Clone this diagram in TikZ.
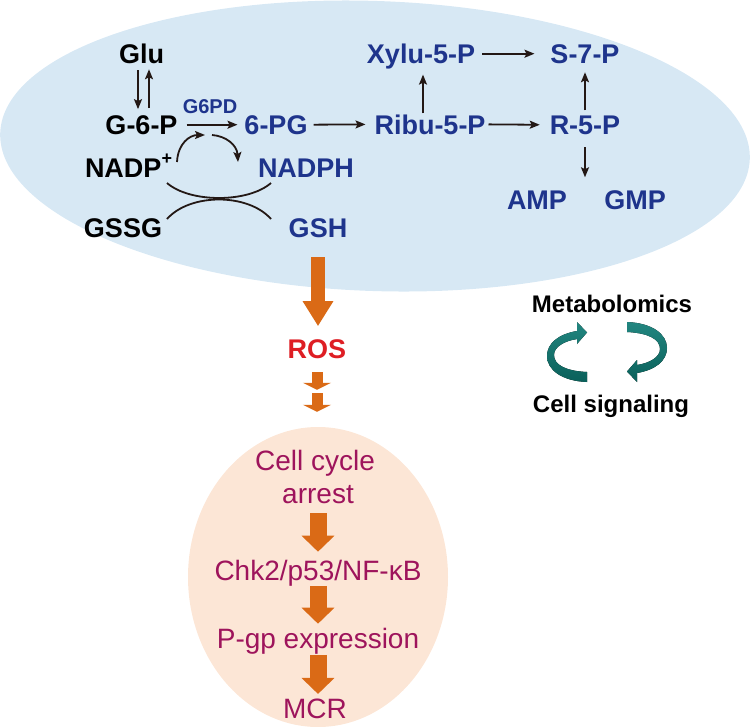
\documentclass[tikz,border=0pt]{standalone}
\usepackage{fontspec}
\setmainfont{Liberation Sans}
\usetikzlibrary{arrows.meta,calc}
\definecolor{bluefill}{RGB}{215,232,244}
\definecolor{navy}{RGB}{30,52,140}
\definecolor{ink}{RGB}{35,24,21}
\definecolor{orng}{RGB}{218,106,22}
\definecolor{rosred}{RGB}{222,30,36}
\definecolor{magent}{RGB}{158,20,92}
\definecolor{peach}{RGB}{252,230,214}
\definecolor{tealA}{RGB}{34,134,128}
\definecolor{tealB}{RGB}{10,96,90}
\begin{document}
\begin{tikzpicture}[x=1pt,y=-1pt,
  lbl/.style={inner sep=0pt, outer sep=0pt, anchor=base, font=\fontsize{27}{30}\selectfont\bfseries},
  blk/.style={lbl, text=black},
  blu/.style={lbl, text=navy},
  sidelbl/.style={inner sep=0pt, outer sep=0pt, anchor=base, font=\fontsize{24}{28}\selectfont\bfseries, text=black},
  peachlbl/.style={inner sep=0pt, outer sep=0pt, anchor=base, font=\fontsize{28}{32}\selectfont, text=magent},
  arr/.style={draw=ink, line width=1.8pt, -{Stealth[length=10pt,width=8pt,inset=2pt]}},
  thin/.style={draw=ink, line width=1.8pt},
  bigarrow/.style={draw=orng, line width=14pt, -{Triangle[length=25pt,width=29pt]}},
  smallarrow/.style={draw=orng, line width=11pt, -{Triangle[length=7pt,width=28pt]}},
  midarrow/.style={draw=orng, line width=17pt, -{Triangle[length=16pt,width=32pt]}},
  ribbon/.style={top color=tealA, bottom color=tealB, draw=none}
]
\useasboundingbox (0,0) rectangle (750,726);

% background shapes
\fill[bluefill, rotate around={-2:(375,146)}] (375,146) ellipse [x radius=375pt, y radius=145pt];
\fill[peach] (318,577) ellipse [x radius=130pt, y radius=150pt];

% labels in the blue ellipse
\node[blk] (glu) at (141.5,63) {Glu};
\node[blk] (g6p) at (141.5,134) {G-6-P};
\node[blu, font=\fontsize{20}{22}\selectfont\bfseries] (g6pd) at (210,113) {G6PD};
\node[blu] (sixpg) at (276,134) {6-PG};
\node[blu] (ribu) at (430,134) {Ribu-5-P};
\node[blu] (r5p) at (585,134) {R-5-P};
\node[blu] (xylu) at (421,63) {Xylu-5-P};
\node[blu] (s7p) at (585,63) {S-7-P};
\node[blk, anchor=base west] (nadp) at (85,177) {NADP\raisebox{13pt}{\fontsize{18}{18}\selectfont\bfseries +}};
\node[blu] (nadph) at (306,177) {NADPH};
\node[blu] (amp) at (537,209) {AMP};
\node[blu] (gmp) at (635,209) {GMP};
\node[blk] (gssg) at (123,237) {GSSG};
\node[blu] (gsh) at (318,237) {GSH};

% black arrows
\draw[arr] ($(glu.south)+(-3.5,7)$) -- ($(g6p.north)+(-3.5,-6)$);
\draw[arr] ($(g6p.north)+(7.5,-7)$) -- ($(glu.south)+(7.5,6)$);
\draw[arr, shorten <=9pt, shorten >=7pt] (g6p.east) -- (sixpg.west);
\draw[arr, shorten <=6pt, shorten >=9pt] (sixpg.east) -- (ribu.west);
\draw[arr, shorten <=3pt, shorten >=10pt] (ribu.east) -- (r5p.west);
\draw[arr, shorten <=7pt, shorten >=16pt] (xylu.east |- s7p.west) -- (s7p.west);
\draw[arr] ($(ribu.north)+(-7,-1)$) -- ($(xylu.south)+(2,6)$);
\draw[arr] ($(r5p.north)+(0,-5)$) -- ($(s7p.south)+(0,9)$);
\coordinate (ampgmp) at ($(amp.north)!0.5!(gmp.north)$);
\draw[arr] ($(r5p.south)+(0,13)$) -- ($(ampgmp)+(-1,-13)$);

% cofactor curved arrows
\coordinate (c1s) at (177,162);
\coordinate (c1e) at (205,135);
\coordinate (c2s) at (212,135);
\coordinate (c2e) at (238,162);
\draw[arr] (c1s) .. controls (178,143) and (190,135) .. (c1e);
\draw[arr] (c2s) .. controls (226,136) and (237,145) .. (c2e);

% crossing curves
\coordinate (xa1) at (167,183);
\coordinate (xa2) at (271,183);
\coordinate (xb1) at (167,219);
\coordinate (xb2) at (271,219);
\draw[thin] (xa1) .. controls (190,203) and (248,203) .. (xa2);
\draw[thin] (xb1) .. controls (190,193) and (248,193) .. (xb2);

% ROS and orange arrows
\node[lbl, text=rosred] (ros) at (317,358) {ROS};
\draw[bigarrow] ($(gsh.south)+(0,20)$) -- ($(gsh.south |- ros.north)+(0,-13)$);
\coordinate (sa1) at ($(ros.south)+(0,14)$);
\coordinate (sa2) at ($(ros.south)+(0,31.5)$);
\coordinate (sb1) at ($(ros.south)+(0,35)$);
\coordinate (sb2) at ($(ros.south)+(0,53.5)$);
\draw[smallarrow] (sa1) -- (sa2);
\draw[smallarrow] (sb1) -- (sb2);

% peach ellipse contents
\node[peachlbl] (cc1) at (315,470) {Cell cycle};
\node[peachlbl] (cc2) at (318,503) {arrest};
\node[peachlbl] (chk) at (318,580) {Chk2/p53/NF-κB};
\node[peachlbl] (pgp) at (318,648) {P-gp expression};
\node[peachlbl] (mcr) at (315,718) {MCR};
\draw[midarrow] ($(cc2.south)+(0,10)$) -- ($(cc2.south |- chk.north)+(0,-8)$);
\draw[midarrow] ($(chk.south)+(0,0)$) -- ($(chk.south |- pgp.north)+(0,-4)$);
\draw[midarrow] ($(pgp.south)+(0,1)$) -- ($(pgp.south |- mcr.north)+(0,-4.5)$);

% metabolomics / cell signaling
\node[sidelbl] (meta) at (612,312) {Metabolomics};
\node[sidelbl] (sig) at (611,412) {Cell signaling};
\foreach \ang in {0,180}{
  \begin{scope}[rotate around={\ang:(607,352)}]
    \fill[ribbon] (587,382)
      .. controls (562,381) and (547,370) .. (547,356)
      .. controls (547,343) and (559,334) .. (577,331)
      -- (577,322) -- (587,332.5) -- (577,344) -- (577,339)
      .. controls (564,341) and (554,347) .. (554,355)
      .. controls (554,365) and (566,371) .. (587,372) -- cycle;
  \end{scope}
}
\end{tikzpicture}
\end{document}
